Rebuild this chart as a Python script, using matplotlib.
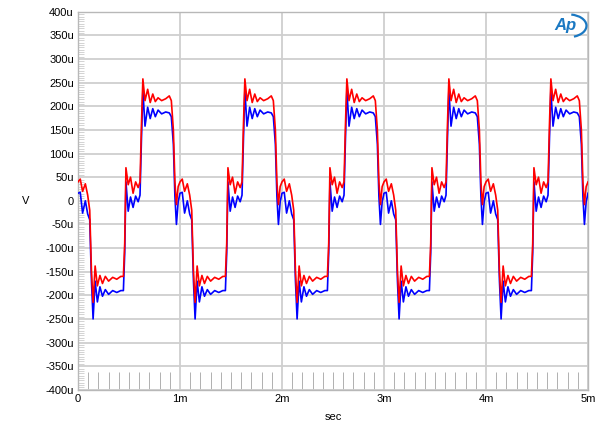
import numpy as np
import matplotlib.pyplot as plt
from matplotlib.patches import Arc

plt.rcParams['font.family'] = ['Liberation Sans', 'DejaVu Sans']

# one period of the two traces (time in ms, level in uV)
t_cycle = [0.000, 0.022, 0.045, 0.072, 0.095, 0.115, 0.132, 0.148, 0.168, 0.190,
           0.215, 0.240, 0.268, 0.300, 0.340, 0.380, 0.420, 0.445, 0.458, 0.470,
           0.492, 0.515, 0.540, 0.565, 0.590, 0.608, 0.622, 0.636, 0.657, 0.683,
           0.708, 0.733, 0.758, 0.785, 0.820, 0.860, 0.895, 0.915, 0.935, 0.950,
           0.965, 0.982]
red_cycle = [40, 46, 20, 36, 12, -20, -150, -215, -138, -180,
             -158, -175, -160, -170, -162, -166, -160, -160, -90, 70,
             34, 50, 16, 40, 28, 40, 160, 258, 212, 236,
             208, 226, 210, 218, 212, 216, 222, 212, 150, 40,
             -8, 30]
blue_cycle = [16, 18, -26, 0, -28, -40, -170, -250, -170, -214,
              -182, -202, -188, -198, -190, -194, -190, -190, -110, 40,
              -22, 8, -14, 10, -2, 12, 130, 234, 158, 198,
              174, 195, 178, 192, 184, 188, 186, 178, 120, 10,
              -50, -2]
n_cycles = 5

# axis ticks
y_ticks = list(range(-400, 401, 50))
y_labels = ["0" if v == 0 else "%du" % v for v in y_ticks]
x_ticks = [0, 1, 2, 3, 4, 5]
x_labels = ["0", "1m", "2m", "3m", "4m", "5m"]

t = np.concatenate([np.array(t_cycle) + k for k in range(n_cycles)] + [[n_cycles]])
red = np.concatenate([red_cycle] * n_cycles + [[red_cycle[0]]])
blue = np.concatenate([blue_cycle] * n_cycles + [[blue_cycle[0]]])

fig = plt.figure(figsize=(6, 4.37), dpi=100)
ax = fig.add_axes([0.13, 0.108, 0.85, 0.865])

ax.plot(t, blue, color="#0000ff", linewidth=1.2, zorder=3)
ax.plot(t, red, color="#ff0000", linewidth=1.2, zorder=4)

ax.set_xlim(0, 5)
ax.set_ylim(-400, 400)
ax.set_yticks(y_ticks)
ax.set_yticklabels(y_labels)
ax.set_xticks(x_ticks)
ax.set_xticklabels(x_labels)
ax.set_yticks(np.arange(-400, 401, 5), minor=True)
ax.set_xticks(np.arange(0, 5.01, 0.1), minor=True)

ax.tick_params(axis='both', which='major', length=0, labelsize=8, pad=3)
ax.tick_params(axis='y', which='minor', direction='in', length=4, color="#cccccc", width=0.6)
ax.tick_params(axis='x', which='minor', direction='in', length=13, color="#b0b0b0", width=0.7)

ax.grid(True, which='major', color="#cfcfcf", linewidth=1.3)
ax.set_axisbelow(True)
for s in ax.spines.values():
    s.set_color("#b8b8b8")
    s.set_linewidth(1.0)

ax.set_xlabel("sec", fontsize=8, labelpad=6)
ax.set_ylabel("V", fontsize=8, rotation=0, labelpad=14, va='center')

# AP logo
ax.text(0.955, 0.963, "Ap", transform=ax.transAxes, fontsize=12, color="#1a78c2",
        fontstyle='italic', fontweight='bold', ha='center', va='center', zorder=5)
ax.add_patch(Arc((0.962, 0.963), 0.07, 0.06, theta1=-70, theta2=80,
                 transform=ax.transAxes, color="#1a78c2", linewidth=1.6, zorder=5))

fig.savefig("out.png", dpi=100)
